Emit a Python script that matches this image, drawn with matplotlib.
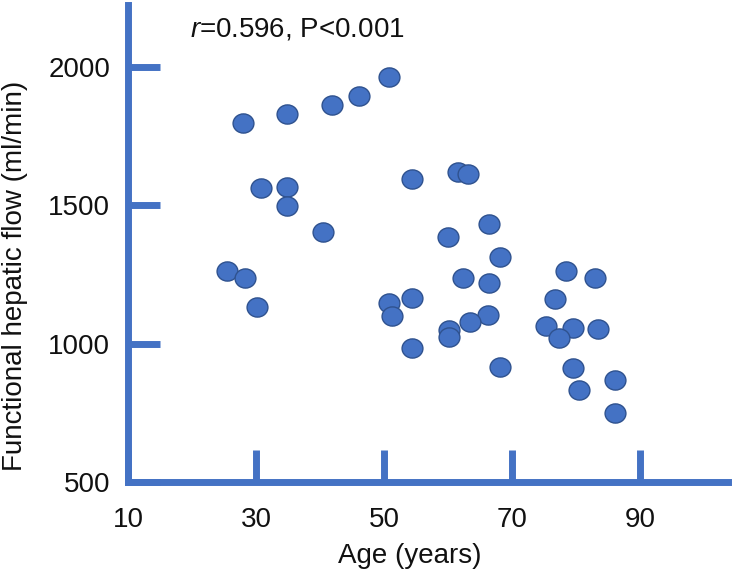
import matplotlib
matplotlib.use('Agg')
import matplotlib.pyplot as plt
from matplotlib.path import Path
from matplotlib.transforms import Affine2D

# ---- data ----
age = [27.9, 34.9, 41.9, 46.1, 50.7, 30.7, 34.8, 34.8, 40.5, 25.4,
       28.2, 30.2, 54.3, 61.5, 63.2, 66.4, 60.0, 68.2, 62.3, 66.4,
       78.4, 83.0, 76.7, 54.4, 50.7, 51.2, 66.3, 63.5, 60.1, 60.1,
       75.4, 79.5, 83.5, 77.4, 54.4, 68.1, 79.5, 86.1, 80.5, 86.1]
flow = [1795, 1829, 1861, 1895, 1961, 1563, 1564, 1497, 1404, 1263,
        1237, 1133, 1596, 1620, 1612, 1432, 1386, 1313, 1237, 1218,
        1262, 1238, 1162, 1164, 1146, 1099, 1102, 1078, 1051, 1023,
        1065, 1058, 1054, 1021, 983, 917, 912, 868, 834, 749]
x_ticks = [10, 30, 50, 70, 90]
y_ticks = [500, 1000, 1500, 2000]
x_label = "Age (years)"
y_label = "Functional hepatic flow (ml/min)"

plt.rcParams['font.family'] = ['Liberation Sans', 'DejaVu Sans']
plt.rcParams['mathtext.fontset'] = 'custom'
plt.rcParams['mathtext.it'] = 'Liberation Sans:italic'
plt.rcParams['mathtext.rm'] = 'Liberation Sans'

W, H = 736, 576
fig = plt.figure(figsize=(W / 100, H / 100), dpi=100)
ax_l, ax_r, ax_b, ax_t = 128.3, 728, 482.3, 5
ax = fig.add_axes([ax_l / W, (H - ax_b) / H, (ax_r - ax_l) / W, (ax_b - ax_t) / H])
ax.set_xlim(10, 103.8)
ax.set_ylim(500, 2222)

blue = '#4472C4'
for s in ['top', 'right']:
    ax.spines[s].set_visible(False)
for s in ['left', 'bottom']:
    ax.spines[s].set_color(blue)
    ax.spines[s].set_linewidth(5)

ellipse = Path.unit_circle().transformed(Affine2D().scale(1.0, 0.92))
ax.scatter(age, flow, s=225, marker=ellipse, facecolor=blue,
           edgecolor='#2F528F', linewidths=1.0, zorder=3)

ax.set_xticks(x_ticks)
ax.set_yticks(y_ticks)
ax.tick_params(direction='in', length=23, width=5, color=blue,
               labelsize=20, labelcolor='#111111')
ax.tick_params(axis='y', pad=13)
ax.tick_params(axis='x', pad=18)

fig.text(410 / W, 1 - 563 / H, x_label, fontsize=20, ha='center',
         va='baseline', color='#111111')
fig.text(22 / W, 1 - 276 / H, y_label, fontsize=20, ha='center',
         va='baseline', rotation=90, rotation_mode='anchor', color='#111111')
fig.text(190 / W, 1 - 36 / H, r'$\mathit{r}$=0.596, P<0.001', fontsize=20,
         ha='left', va='baseline', color='#111111')

fig.savefig('out.png', dpi=100)
